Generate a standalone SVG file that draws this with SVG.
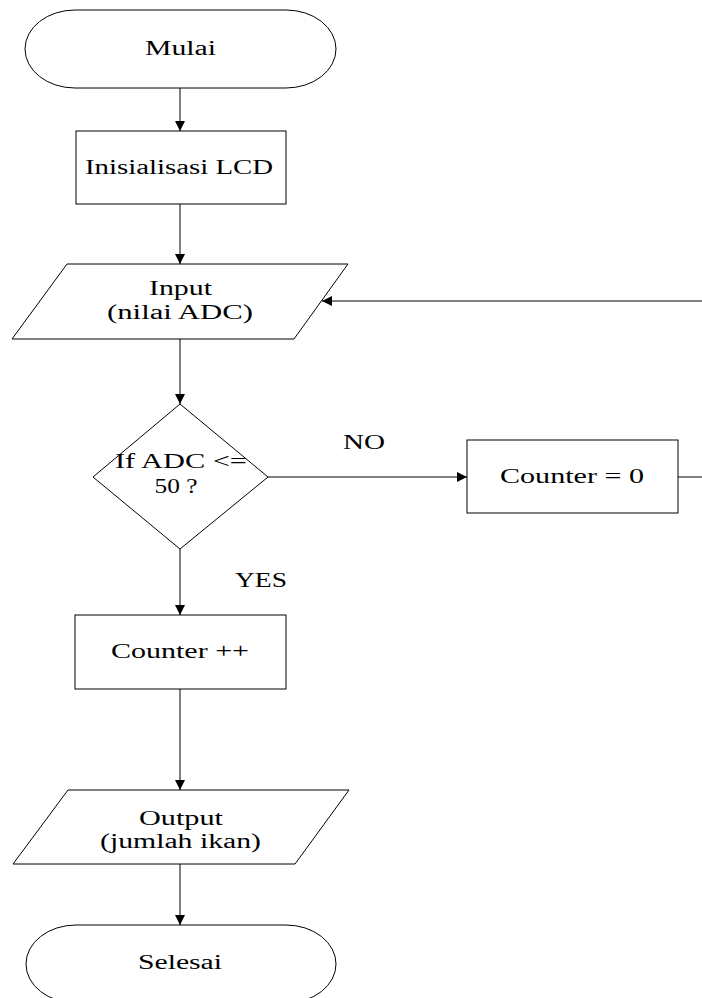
<svg xmlns="http://www.w3.org/2000/svg" width="702" height="998" viewBox="0 0 702 998">
<defs>
<style>
.shape{fill:#fff;stroke:#000;stroke-width:1}
.conn{fill:none;stroke:#000;stroke-width:1}
text{font-family:"Liberation Serif","Times New Roman",serif;font-size:20px;fill:#000;text-anchor:middle}
</style>
<marker id="arr" markerWidth="10" markerHeight="10" refX="10" refY="5" orient="auto" markerUnits="userSpaceOnUse">
<path d="M0,0 L10,5 L0,10 Z" fill="#000"/>
</marker>
</defs>
<rect width="702" height="998" fill="#fff"/>
<g id="connectors">
<line class="conn" x1="180" y1="88" x2="180" y2="131" marker-end="url(#arr)"/>
<line class="conn" x1="180" y1="204" x2="180" y2="264" marker-end="url(#arr)"/>
<line class="conn" x1="180" y1="339" x2="180" y2="404" marker-end="url(#arr)"/>
<line class="conn" x1="268" y1="477" x2="467" y2="477" marker-end="url(#arr)"/>
<polyline class="conn" points="678,477 702,477"/>
<line class="conn" x1="702" y1="301" x2="322" y2="301" marker-end="url(#arr)"/>
<line class="conn" x1="180" y1="549" x2="180" y2="615" marker-end="url(#arr)"/>
<line class="conn" x1="180" y1="689" x2="180" y2="790" marker-end="url(#arr)"/>
<line class="conn" x1="180" y1="864" x2="180" y2="925" marker-end="url(#arr)"/>
<text x="364" y="449" textLength="42" lengthAdjust="spacingAndGlyphs">NO</text>
<text x="261" y="587" textLength="52" lengthAdjust="spacingAndGlyphs">YES</text>
</g>
<g id="mulai">
<path class="shape" d="M75,10 H286 A50,39 0 0 1 286,88 H75 A50,39 0 0 1 75,10 Z"/>
<text x="180.5" y="55" textLength="71" lengthAdjust="spacingAndGlyphs">Mulai</text>
</g>
<g id="init">
<rect class="shape" x="76" y="131" width="210" height="73"/>
<text x="179" y="174" textLength="188" lengthAdjust="spacingAndGlyphs">Inisialisasi LCD</text>
</g>
<g id="input">
<polygon class="shape" points="67,264 348,264 294,339 12,339"/>
<text x="180.5" y="295" textLength="63" lengthAdjust="spacingAndGlyphs">Input</text>
<text x="180" y="319" textLength="146" lengthAdjust="spacingAndGlyphs">(nilai ADC)</text>
</g>
<g id="decision">
<polygon class="shape" points="180,404 268,477 180,549 93,477"/>
<text x="181" y="468" textLength="132" lengthAdjust="spacingAndGlyphs">If ADC &lt;=</text>
<text x="176" y="493" textLength="43" lengthAdjust="spacingAndGlyphs">50 ?</text>
</g>
<g id="counter0">
<rect class="shape" x="467" y="440" width="211" height="73"/>
<text x="572" y="483" textLength="144" lengthAdjust="spacingAndGlyphs">Counter = 0</text>
</g>
<g id="counterinc">
<rect class="shape" x="75" y="615" width="211" height="74"/>
<text x="180" y="658" textLength="138" lengthAdjust="spacingAndGlyphs">Counter ++</text>
</g>
<g id="output">
<polygon class="shape" points="68,790 349,790 295,864 13,864"/>
<text x="181" y="825" textLength="84" lengthAdjust="spacingAndGlyphs">Output</text>
<text x="180.5" y="848" textLength="161" lengthAdjust="spacingAndGlyphs">(jumlah ikan)</text>
</g>
<g id="selesai">
<path class="shape" d="M76,925 H286 A50,39 0 0 1 286,1003 H76 A50,39 0 0 1 76,925 Z"/>
<text x="180" y="969" textLength="84" lengthAdjust="spacingAndGlyphs">Selesai</text>
</g>
</svg>
